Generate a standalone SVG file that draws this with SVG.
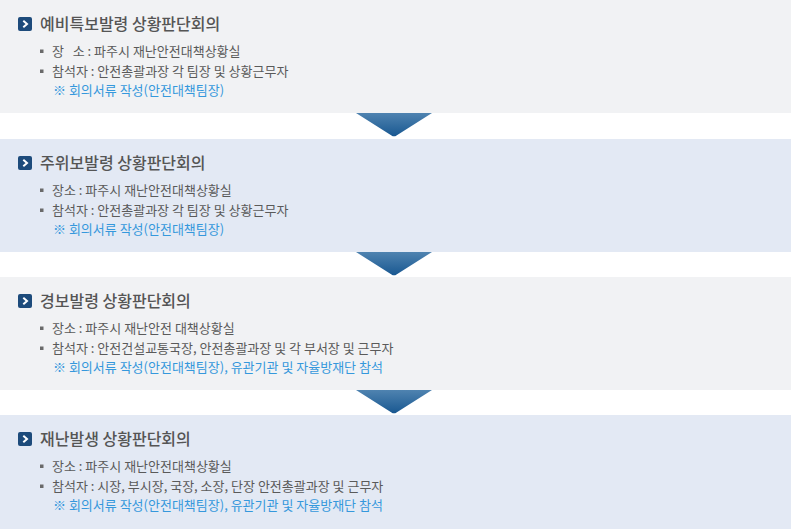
<svg xmlns="http://www.w3.org/2000/svg" width="791" height="529" viewBox="0 0 791 529">
<defs>
<linearGradient id="ag" x1="0" y1="0" x2="0" y2="1">
<stop offset="0" stop-color="#4f83b0"/>
<stop offset="1" stop-color="#195891"/>
</linearGradient>
<g id="icon">
<rect x="18" y="17" width="14" height="14" rx="2" fill="#1d4b7b"/>
<polyline points="23.3,20.8 27,24 23.3,27.2" fill="none" stroke="#fff" stroke-width="2"/>
</g>
<rect id="bul" width="3.5" height="3.5" fill="#6a6a6a"/>
</defs>
<style>
.gray{fill:#f1f2f4}
.blue{fill:#e3e9f4}
.t{font-family:"Noto Sans CJK KR","Noto Sans",sans-serif;font-size:16px;font-weight:500;fill:#555}
.b{font-family:"Noto Sans CJK KR","Noto Sans",sans-serif;font-size:13px;fill:#5a5a5a;white-space:pre}
.n{font-family:"Noto Sans CJK KR","Noto Sans",sans-serif;font-size:13px;fill:#3598dc}
.arr{fill:url(#ag)}
</style>
<rect width="791" height="529" fill="#fff"/>
<g id="panel1" transform="translate(0,0)">
<rect class="gray" width="791" height="113"/>
<use href="#icon"/>
<text class="t" x="40" y="30">예비특보발령 상황판단회의</text>
<use href="#bul" x="40" y="49.5"/>
<text class="b" x="52" y="55.5" xml:space="preserve">장   소 : 파주시 재난안전대책상황실</text>
<use href="#bul" x="40" y="69.5"/>
<text class="b" x="52" y="75.5">참석자 : 안전총괄과장 각 팀장 및 상황근무자</text>
<text class="n" x="53" y="95">※ 회의서류 작성(안전대책팀장)</text>
</g>
<g id="panel2" transform="translate(0,139)">
<rect class="blue" width="791" height="113"/>
<use href="#icon"/>
<text class="t" x="40" y="30">주위보발령 상황판단회의</text>
<use href="#bul" x="40" y="49.5"/>
<text class="b" x="52" y="55.5">장소 : 파주시 재난안전대책상황실</text>
<use href="#bul" x="40" y="69.5"/>
<text class="b" x="52" y="75.5">참석자 : 안전총괄과장 각 팀장 및 상황근무자</text>
<text class="n" x="53" y="95">※ 회의서류 작성(안전대책팀장)</text>
</g>
<g id="panel3" transform="translate(0,277)">
<rect class="gray" width="791" height="113"/>
<use href="#icon"/>
<text class="t" x="40" y="30">경보발령 상황판단회의</text>
<use href="#bul" x="40" y="49.5"/>
<text class="b" x="52" y="55.5">장소 : 파주시 재난안전 대책상황실</text>
<use href="#bul" x="40" y="69.5"/>
<text class="b" x="52" y="75.5">참석자 : 안전건설교통국장, 안전총괄과장 및 각 부서장 및 근무자</text>
<text class="n" x="53" y="95">※ 회의서류 작성(안전대책팀장), 유관기관 및 자율방재단 참석</text>
</g>
<g id="panel4" transform="translate(0,415)">
<rect class="blue" width="791" height="114"/>
<use href="#icon"/>
<text class="t" x="40" y="30">재난발생 상황판단회의</text>
<use href="#bul" x="40" y="49.5"/>
<text class="b" x="52" y="55.5">장소 : 파주시 재난안전대책상황실</text>
<use href="#bul" x="40" y="69.5"/>
<text class="b" x="52" y="75.5">참석자 : 시장, 부시장, 국장, 소장, 단장 안전총괄과장 및 근무자</text>
<text class="n" x="53" y="95">※ 회의서류 작성(안전대책팀장), 유관기관 및 자율방재단 참석</text>
</g>
<g id="connectors">
<path class="arr" d="M356 113 L432 113 L396.5 135.5 Q394 137.2 391.5 135.5 Z"/>
<path class="arr" d="M356 252 L432 252 L396.5 274.5 Q394 276.2 391.5 274.5 Z"/>
<path class="arr" d="M356 390 L432 390 L396.5 412.5 Q394 414.2 391.5 412.5 Z"/>
</g>
</svg>
